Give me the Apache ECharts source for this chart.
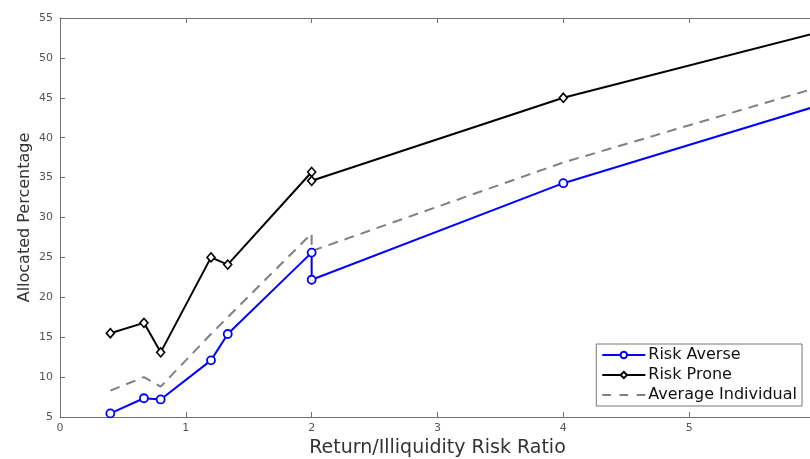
<!DOCTYPE html>
<html><head><meta charset="utf-8">
<script src="https://cdn.jsdelivr.net/npm/echarts@6/dist/echarts.min.js"></script>
<style>html,body{margin:0;padding:0;background:#fff}#c{width:810px;height:459px}</style>
</head><body><div id="c"></div>
<script>
const xAverse = [0.4, 0.667, 0.8, 1.2, 1.333, 2, 2, 4, 6];
const yAverse = [5.45, 7.35, 7.2, 12.1, 15.4, 25.6, 22.2, 34.3, 43.9];
const xProne = [0.4, 0.667, 0.8, 1.2, 1.333, 2, 2, 4, 6];
const yProne = [15.5, 16.8, 13.1, 25.0, 24.1, 35.7, 34.6, 45.0, 53.1];
const xAvg = [0.4, 0.667, 0.8, 1.2, 1.333, 2, 2, 4, 6];
const yAvg = [8.3, 10.0, 8.8, 15.4, 17.5, 28.0, 25.8, 36.9, 46.2];
const xTicks = [0, 1, 2, 3, 4, 5, 6];
const yTicks = [5, 10, 15, 20, 25, 30, 35, 40, 45, 50, 55];

const pairs = (xs, ys) => xs.map((x, i) => [x, ys[i]]);
const font = '"DejaVu Sans", "Liberation Sans", Arial, sans-serif';
const axisCol = '#707070';

const chart = echarts.init(document.getElementById('c'), null, {renderer: 'canvas'});
const baseX = {
  type: 'value', min: xTicks[0], max: xTicks[xTicks.length - 1], interval: 1,
  axisLine: {show: true, onZero: false, lineStyle: {color: axisCol, width: 1}},
  axisTick: {show: true, inside: true, length: 5, lineStyle: {color: axisCol}},
  splitLine: {show: false}
};
const baseY = {
  type: 'value', min: yTicks[0], max: yTicks[yTicks.length - 1], interval: 5,
  axisLine: {show: true, onZero: false, lineStyle: {color: axisCol, width: 1}},
  axisTick: {show: true, inside: true, length: 5, lineStyle: {color: axisCol}},
  splitLine: {show: false}
};
chart.setOption({
  animation: false,
  backgroundColor: '#fff',
  textStyle: {fontFamily: font},
  grid: {left: 60, right: -5, top: 18, bottom: 42, outerBoundsMode: 'none', containLabel: false},
  xAxis: [
    Object.assign({}, baseX, {
      position: 'bottom',
      axisLabel: {color: '#555', fontSize: 11, margin: 6, fontFamily: font},
      name: 'Return/Illiquidity Risk Ratio', nameLocation: 'middle', nameGap: 22,
      nameMoveOverlap: false,
      nameTextStyle: {color: '#333', fontSize: 19, fontFamily: font}
    }),
    Object.assign({}, baseX, {position: 'top', axisLabel: {show: false}})
  ],
  yAxis: [
    Object.assign({}, baseY, {
      position: 'left',
      axisLabel: {color: '#555', fontSize: 11, margin: 7, fontFamily: font},
      name: 'Allocated Percentage', nameLocation: 'middle', nameGap: 27,
      nameMoveOverlap: false,
      nameTextStyle: {color: '#333', fontSize: 16, fontFamily: font}
    }),
    Object.assign({}, baseY, {position: 'right', axisLabel: {show: false}})
  ],
  legend: {
    right: 8, bottom: 53, orient: 'vertical',
    backgroundColor: '#fff', borderColor: '#777', borderWidth: 1, borderRadius: 0,
    padding: [3, 5, 3, 5], itemGap: 4, itemWidth: 43, itemHeight: 8,
    textStyle: {fontSize: 16, color: '#111', fontFamily: font, padding: [0, 0, 0, -2]},
    data: [
      {name: 'Risk Averse'},
      {name: 'Risk Prone'},
      {name: 'Average Individual', icon: 'path://M0,0h8v2h-8z M16,0h8v2h-8z M32,0h8v2h-8z'}
    ]
  },
  series: [
    {
      name: 'Risk Averse', type: 'line', data: pairs(xAverse, yAverse),
      symbol: 'circle', symbolSize: 8, showSymbol: true,
      lineStyle: {color: '#0000ff', width: 2},
      itemStyle: {color: '#fff', borderColor: '#0000ff', borderWidth: 1.8},
      z: 4
    },
    {
      name: 'Risk Prone', type: 'line', data: pairs(xProne, yProne),
      symbol: 'diamond', symbolSize: [8, 9],
      lineStyle: {color: '#000', width: 2},
      itemStyle: {color: '#fff', borderColor: '#000', borderWidth: 1.6},
      z: 3
    },
    {
      name: 'Average Individual', type: 'line', data: pairs(xAvg, yAvg),
      symbol: 'none', showSymbol: false,
      lineStyle: {color: '#808080', width: 2, type: [10, 7]},
      itemStyle: {color: '#808080'},
      z: 2
    }
  ]
});
</script></body></html>
